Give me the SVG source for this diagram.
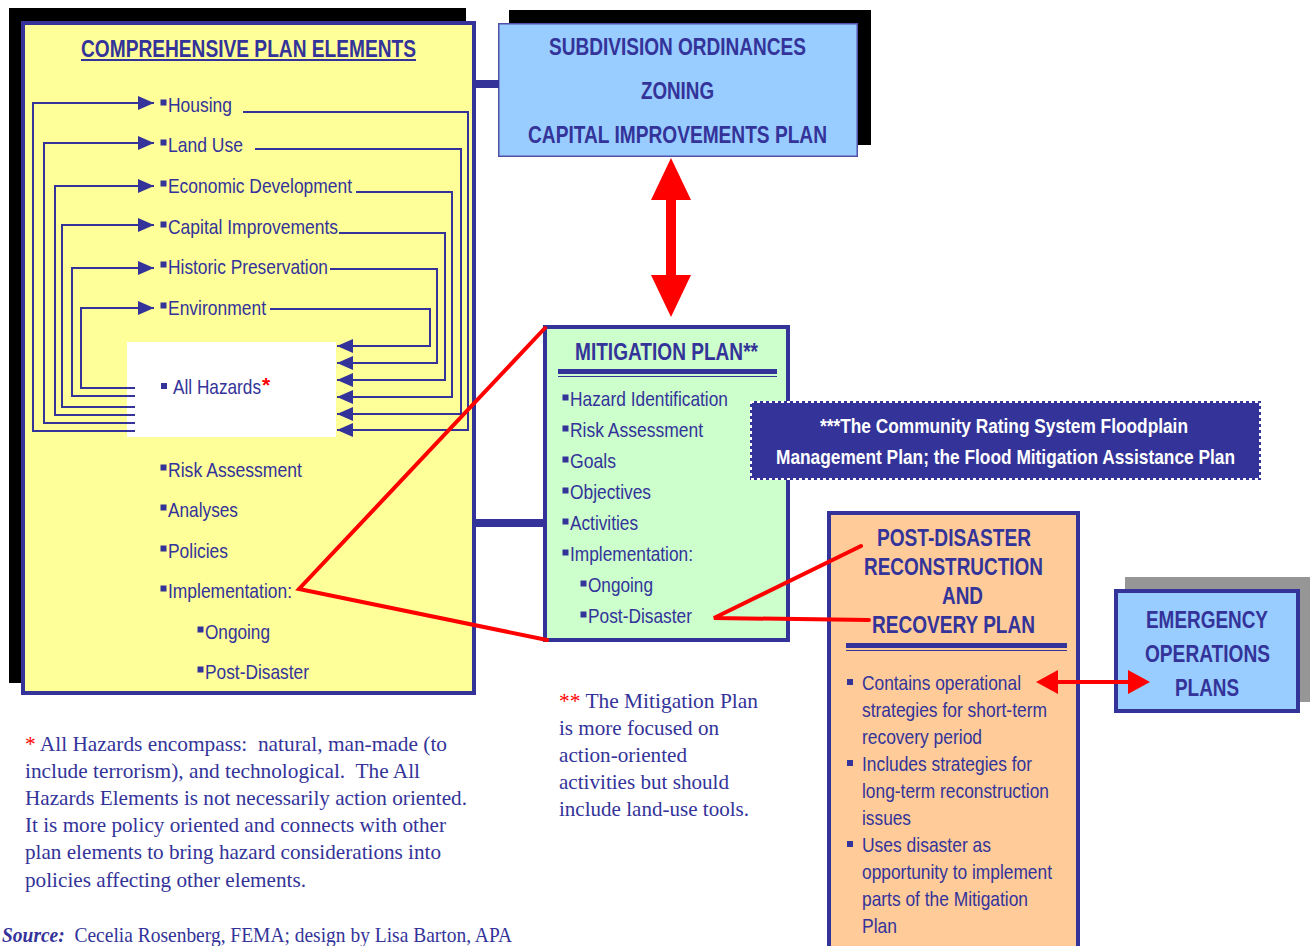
<svg xmlns="http://www.w3.org/2000/svg" width="1310" height="946" viewBox="0 0 1310 946">
<defs>
<style>
.t{fill:#333399;font-family:"Liberation Sans",Arial,sans-serif;font-size:21px}
.h{fill:#333399;font-family:"Liberation Sans",Arial,sans-serif;font-size:23px;font-weight:bold}
.w{fill:#ffffff;font-family:"Liberation Sans",Arial,sans-serif;font-size:21px;font-weight:bold}
.s{fill:#333399;font-family:"Liberation Serif","Times New Roman",serif;font-size:21px}
.r{fill:#ff0000}
.ln{stroke:#333399;stroke-width:2;fill:none}
.rl{stroke:#ff0000;stroke-width:4;fill:none;stroke-linecap:round}
.bu{fill:#333399}
</style>
<marker id="ah" viewBox="0 0 16 14" markerUnits="userSpaceOnUse" markerWidth="16" markerHeight="14" refX="16" refY="7" orient="auto">
<path d="M0,0 L16,7 L0,14 Z" fill="#333399"/>
</marker>
</defs>
<rect width="1310" height="946" fill="#ffffff"/>

<g id="comprehensive-plan">
<rect x="9" y="8" width="457" height="675" fill="#000000"/>
<rect x="23" y="23" width="451" height="670" fill="#ffff99" stroke="#333399" stroke-width="4"/>
<text class="h" x="81" y="57" textLength="335" lengthAdjust="spacingAndGlyphs">COMPREHENSIVE PLAN ELEMENTS</text>
<rect x="81" y="59" width="335" height="2" fill="#333399"/>
<rect class="bu" x="160.5" y="99.5" width="6" height="6"/><text class="t" x="168" y="112" textLength="64" lengthAdjust="spacingAndGlyphs">Housing</text>
<rect class="bu" x="160.5" y="139.5" width="6" height="6"/><text class="t" x="168" y="152" textLength="75" lengthAdjust="spacingAndGlyphs">Land Use</text>
<rect class="bu" x="160.5" y="180.5" width="6" height="6"/><text class="t" x="168" y="193" textLength="184" lengthAdjust="spacingAndGlyphs">Economic Development</text>
<rect class="bu" x="160.5" y="221.5" width="6" height="6"/><text class="t" x="168" y="234" textLength="170" lengthAdjust="spacingAndGlyphs">Capital Improvements</text>
<rect class="bu" x="160.5" y="261.5" width="6" height="6"/><text class="t" x="168" y="274" textLength="160" lengthAdjust="spacingAndGlyphs">Historic Preservation</text>
<rect class="bu" x="160.5" y="302.5" width="6" height="6"/><text class="t" x="168" y="315" textLength="98" lengthAdjust="spacingAndGlyphs">Environment</text>
<rect class="bu" x="160.5" y="464.5" width="6" height="6"/><text class="t" x="168" y="477" textLength="134" lengthAdjust="spacingAndGlyphs">Risk Assessment</text>
<rect class="bu" x="160.5" y="504.5" width="6" height="6"/><text class="t" x="168" y="517" textLength="70" lengthAdjust="spacingAndGlyphs">Analyses</text>
<rect class="bu" x="160.5" y="545.5" width="6" height="6"/><text class="t" x="168" y="558" textLength="60" lengthAdjust="spacingAndGlyphs">Policies</text>
<rect class="bu" x="160.5" y="585.5" width="6" height="6"/><text class="t" x="168" y="598" textLength="124" lengthAdjust="spacingAndGlyphs">Implementation:</text>
<rect class="bu" x="197.5" y="626.5" width="6" height="6"/><text class="t" x="205" y="639" textLength="65" lengthAdjust="spacingAndGlyphs">Ongoing</text>
<rect class="bu" x="197.5" y="666.5" width="6" height="6"/><text class="t" x="205" y="679" textLength="104" lengthAdjust="spacingAndGlyphs">Post-Disaster</text>
</g>

<g id="all-hazards">
<rect x="127" y="342" width="209" height="95" fill="#ffffff"/>
<rect class="bu" x="161" y="383" width="6" height="6"/>
<text class="t" x="173" y="394" textLength="88" lengthAdjust="spacingAndGlyphs">All Hazards</text>
<text class="t r" x="262" y="392" font-weight="bold">*</text>
</g>

<g id="subdivision-zoning">
<rect x="509" y="10" width="362" height="135" fill="#000000"/>
<rect x="498.75" y="23.75" width="358.5" height="132.5" fill="#99ccff" stroke="#5050a8" stroke-width="1.5"/>
<text class="h" x="549" y="55" textLength="257" lengthAdjust="spacingAndGlyphs">SUBDIVISION ORDINANCES</text>
<text class="h" x="641" y="99" textLength="73" lengthAdjust="spacingAndGlyphs">ZONING</text>
<text class="h" x="528" y="143" textLength="299" lengthAdjust="spacingAndGlyphs">CAPITAL IMPROVEMENTS PLAN</text>
</g>

<g id="mitigation-plan">
<rect x="545" y="327" width="243" height="313" fill="#ccffcc" stroke="#333399" stroke-width="4"/>
<text class="h" x="575" y="360" font-size="22" textLength="183" lengthAdjust="spacingAndGlyphs">MITIGATION PLAN**</text>
<rect x="558" y="369" width="219" height="5" fill="#333399"/>
<rect x="558" y="376" width="219" height="1" fill="#333399"/>
<rect class="bu" x="562.5" y="394.5" width="6" height="6"/><text class="t" x="570" y="406" textLength="158" lengthAdjust="spacingAndGlyphs">Hazard Identification</text>
<rect class="bu" x="562.5" y="425.5" width="6" height="6"/><text class="t" x="570" y="437" textLength="133" lengthAdjust="spacingAndGlyphs">Risk Assessment</text>
<rect class="bu" x="562.5" y="456.5" width="6" height="6"/><text class="t" x="570" y="468" textLength="46" lengthAdjust="spacingAndGlyphs">Goals</text>
<rect class="bu" x="562.5" y="487.5" width="6" height="6"/><text class="t" x="570" y="499" textLength="81" lengthAdjust="spacingAndGlyphs">Objectives</text>
<rect class="bu" x="562.5" y="518.5" width="6" height="6"/><text class="t" x="570" y="530" textLength="68" lengthAdjust="spacingAndGlyphs">Activities</text>
<rect class="bu" x="562.5" y="549.5" width="6" height="6"/><text class="t" x="570" y="561" textLength="123" lengthAdjust="spacingAndGlyphs">Implementation:</text>
<rect class="bu" x="580.5" y="580.5" width="6" height="6"/><text class="t" x="588" y="592" textLength="65" lengthAdjust="spacingAndGlyphs">Ongoing</text>
<rect class="bu" x="580.5" y="611.5" width="6" height="6"/><text class="t" x="588" y="623" textLength="104" lengthAdjust="spacingAndGlyphs">Post-Disaster</text>
</g>

<g id="crs-note">
<rect x="750" y="401" width="511" height="79" fill="#333399"/>
<rect x="751" y="402" width="509" height="77" fill="none" stroke="#ffffff" stroke-width="2" stroke-dasharray="3,3"/>
<text class="w" x="820" y="433" textLength="368" lengthAdjust="spacingAndGlyphs">***The Community Rating System Floodplain</text>
<text class="w" x="776" y="464" textLength="459" lengthAdjust="spacingAndGlyphs">Management Plan; the Flood Mitigation Assistance Plan</text>
</g>

<g id="post-disaster-plan">
<rect x="829" y="513" width="249" height="450" fill="#ffcc99" stroke="#333399" stroke-width="4"/>
<text class="h" x="877" y="546" font-size="22" textLength="154" lengthAdjust="spacingAndGlyphs">POST-DISASTER</text>
<text class="h" x="864" y="575" font-size="22" textLength="179" lengthAdjust="spacingAndGlyphs">RECONSTRUCTION</text>
<text class="h" x="942" y="604" font-size="22" textLength="41" lengthAdjust="spacingAndGlyphs">AND</text>
<text class="h" x="872" y="633" font-size="22" textLength="163" lengthAdjust="spacingAndGlyphs">RECOVERY PLAN</text>
<rect x="846" y="643" width="221" height="5" fill="#333399"/>
<rect x="846" y="650" width="221" height="1" fill="#333399"/>
<rect class="bu" x="847" y="679" width="6" height="6"/>
<text class="t" x="862" y="690" font-size="20" textLength="159" lengthAdjust="spacingAndGlyphs">Contains operational</text>
<text class="t" x="862" y="717" font-size="20" textLength="185" lengthAdjust="spacingAndGlyphs">strategies for short-term</text>
<text class="t" x="862" y="744" font-size="20" textLength="120" lengthAdjust="spacingAndGlyphs">recovery period</text>
<rect class="bu" x="847" y="760" width="6" height="6"/>
<text class="t" x="862" y="771" font-size="20" textLength="170" lengthAdjust="spacingAndGlyphs">Includes strategies for</text>
<text class="t" x="862" y="798" font-size="20" textLength="187" lengthAdjust="spacingAndGlyphs">long-term reconstruction</text>
<text class="t" x="862" y="825" font-size="20" textLength="49" lengthAdjust="spacingAndGlyphs">issues</text>
<rect class="bu" x="847" y="841" width="6" height="6"/>
<text class="t" x="862" y="852" font-size="20" textLength="129" lengthAdjust="spacingAndGlyphs">Uses disaster as</text>
<text class="t" x="862" y="879" font-size="20" textLength="190" lengthAdjust="spacingAndGlyphs">opportunity to implement</text>
<text class="t" x="862" y="906" font-size="20" textLength="166" lengthAdjust="spacingAndGlyphs">parts of the Mitigation</text>
<text class="t" x="862" y="933" font-size="20" textLength="35" lengthAdjust="spacingAndGlyphs">Plan</text>
</g>

<g id="emergency-operations">
<rect x="1125" y="577" width="185" height="125" fill="#969696"/>
<rect x="1116" y="591" width="182" height="120" fill="#99ccff" stroke="#333399" stroke-width="4"/>
<text class="h" x="1146" y="628" font-size="22" textLength="122" lengthAdjust="spacingAndGlyphs">EMERGENCY</text>
<text class="h" x="1145" y="662" font-size="22" textLength="125" lengthAdjust="spacingAndGlyphs">OPERATIONS</text>
<text class="h" x="1175" y="696" font-size="22" textLength="64" lengthAdjust="spacingAndGlyphs">PLANS</text>
</g>

<g id="connectors">
<rect x="474" y="80" width="25" height="8" fill="#333399"/>
<rect x="474" y="519" width="71" height="8" fill="#333399"/>
<path class="ln" d="M135,431 H33 V103 H154" marker-end="url(#ah)"/>
<path class="ln" d="M135,423 H44 V143 H154" marker-end="url(#ah)"/>
<path class="ln" d="M135,415 H55 V186 H154" marker-end="url(#ah)"/>
<path class="ln" d="M135,407 H62 V225 H154" marker-end="url(#ah)"/>
<path class="ln" d="M135,396 H72 V268 H154" marker-end="url(#ah)"/>
<path class="ln" d="M135,388 H81 V308 H154" marker-end="url(#ah)"/>
<path class="ln" d="M243,112 H468 V430 H337" marker-end="url(#ah)"/>
<path class="ln" d="M255,149 H461 V414 H337" marker-end="url(#ah)"/>
<path class="ln" d="M356,192 H452 V397 H337" marker-end="url(#ah)"/>
<path class="ln" d="M339,233 H445 V380 H337" marker-end="url(#ah)"/>
<path class="ln" d="M330,269 H437 V363 H337" marker-end="url(#ah)"/>
<path class="ln" d="M270,309 H430 V346 H337" marker-end="url(#ah)"/>
<path fill="#ff0000" d="M671,158 L691,200 L676,200 L676,275 L691,275 L671,317 L651,275 L666,275 L666,200 L651,200 Z"/>
<path fill="#ff0000" d="M1036,682 L1058,670 L1058,680 L1128,680 L1128,670 L1150,682 L1128,694 L1128,684 L1058,684 L1058,694 Z"/>
<path class="rl" d="M545,328 L299,589 L547,640"/>
<path class="rl" d="M861,546 L714,618 L869,620"/>
</g>

<g id="notes">
<text class="s" x="25" y="751" xml:space="preserve" textLength="422" lengthAdjust="spacingAndGlyphs"><tspan class="r">*</tspan> All Hazards encompass:  natural, man-made (to</text>
<text class="s" x="25" y="778" xml:space="preserve" textLength="395" lengthAdjust="spacingAndGlyphs">include terrorism), and technological.  The All</text>
<text class="s" x="25" y="805" textLength="442" lengthAdjust="spacingAndGlyphs">Hazards Elements is not necessarily action oriented.</text>
<text class="s" x="25" y="832" textLength="421" lengthAdjust="spacingAndGlyphs">It is more policy oriented and connects with other</text>
<text class="s" x="25" y="859" textLength="416" lengthAdjust="spacingAndGlyphs">plan elements to bring hazard considerations into</text>
<text class="s" x="25" y="887" textLength="281" lengthAdjust="spacingAndGlyphs">policies affecting other elements.</text>
<text class="s" x="559" y="708" textLength="199" lengthAdjust="spacingAndGlyphs"><tspan class="r">**</tspan> The Mitigation Plan</text>
<text class="s" x="559" y="735" textLength="160" lengthAdjust="spacingAndGlyphs">is more focused on</text>
<text class="s" x="559" y="762" textLength="128" lengthAdjust="spacingAndGlyphs">action-oriented</text>
<text class="s" x="559" y="789" textLength="170" lengthAdjust="spacingAndGlyphs">activities but should</text>
<text class="s" x="559" y="816" textLength="190" lengthAdjust="spacingAndGlyphs">include land-use tools.</text>
<text class="s" x="2" y="942" font-size="20" xml:space="preserve" textLength="510" lengthAdjust="spacingAndGlyphs"><tspan font-weight="bold" font-style="italic">Source:</tspan>  Cecelia Rosenberg, FEMA; design by Lisa Barton, APA</text>
</g>
</svg>
